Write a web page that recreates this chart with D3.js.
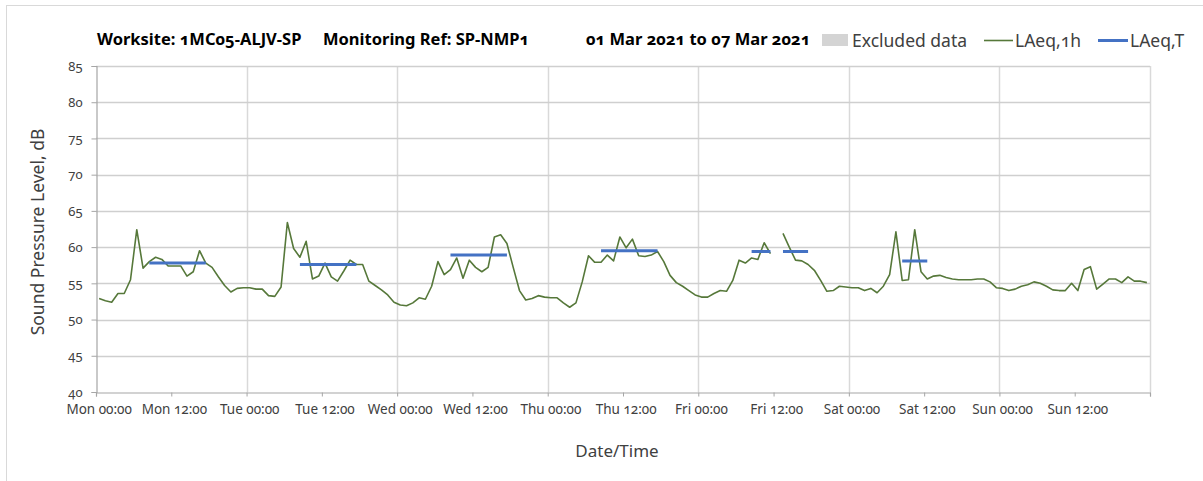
<!DOCTYPE html>
<html>
<head>
<meta charset="utf-8">
<script src="https://cdn.jsdelivr.net/npm/d3@7"></script>
<style>
  html, body { margin: 0; padding: 0; background: #ffffff; }
  svg { display: block; }
  text { font-family: "Noto Sans", "Open Sans", sans-serif; font-feature-settings: "onum" 1; }
</style>
</head>
<body>
<svg id="chart" width="1203" height="481"></svg>
<script>
// ---------------- DATA ----------------
// Hourly LAeq,1h values (dB), one array per day, 24 hourly periods 00:00..23:00
const monValues = [52.9, 52.6, 52.4, 53.6, 53.6, 55.5, 62.4, 57.1, 58.0, 58.6, 58.3, 57.4, 57.4, 57.4, 56.0, 56.6, 59.5, 57.8, 57.2, 55.9, 54.7, 53.8, 54.3, 54.4];
const tueValues = [54.4, 54.2, 54.2, 53.3, 53.2, 54.5, 63.4, 59.8, 58.6, 60.8, 55.6, 56.0, 57.8, 55.9, 55.3, 56.7, 58.2, 57.6, 57.6, 55.3, 54.7, 54.1, 53.4, 52.4];
const wedValues = [52.0, 51.9, 52.3, 53.0, 52.8, 54.6, 58.0, 56.2, 56.9, 58.5, 55.7, 58.2, 57.2, 56.6, 57.2, 61.4, 61.7, 60.5, 57.2, 54.0, 52.7, 52.9, 53.3, 53.1];
const thuValues = [53.0, 53.0, 52.3, 51.7, 52.3, 55.2, 58.8, 57.9, 57.9, 58.9, 58.1, 61.4, 59.9, 61.1, 58.8, 58.7, 58.9, 59.4, 58.0, 56.1, 55.1, 54.6, 54.0, 53.4];
const friValues = [53.1, 53.1, 53.6, 54.0, 53.9, 55.4, 58.2, 57.8, 58.5, 58.3, 60.6, 59.1, null, 61.9, 60.0, 58.2, 58.1, 57.6, 56.8, 55.4, 53.9, 54.0, 54.6, 54.5];
const satValues = [54.4, 54.4, 54.0, 54.3, 53.7, 54.6, 56.2, 62.1, 55.4, 55.5, 62.4, 56.6, 55.6, 56.0, 56.1, 55.8, 55.6, 55.5, 55.5, 55.5, 55.6, 55.6, 55.2, 54.4];
const sunValues = [54.3, 54.0, 54.2, 54.6, 54.8, 55.2, 55.0, 54.6, 54.1, 54.0, 54.0, 55.0, 54.0, 56.9, 57.3, 54.2, 54.9, 55.6, 55.6, 55.1, 55.9, 55.3, 55.3, 55.1];

// LAeq,T periods: first and last hourly period index (0..167) and level
const periodStart = [8, 32, 56, 80, 104, 128];
const periodEnd   = [17, 41, 65, 89, 113, 132];
const periodLevel = [57.8, 57.6, 58.9, 59.5, 59.4, 58.1];

// Axis labels
const dayNames = ["Mon", "Tue", "Wed", "Thu", "Fri", "Sat", "Sun"];
const hourLabels = ["00:00", "12:00"];
const yTicks = [40, 45, 50, 55, 60, 65, 70, 75, 80, 85];

const titleParts = ["Worksite: 1MC05-ALJV-SP", "Monitoring Ref: SP-NMP1", "01 Mar 2021 to 07 Mar 2021"];
const legendLabels = ["Excluded data", "LAeq,1h", "LAeq,T"];

// ---------------- BUILD ----------------
const laeq1h = [].concat(monValues, tueValues, wedValues, thuValues, friValues, satValues, sunValues);
const nHours = laeq1h.length;
const laeqT = laeq1h.map((v, i) => {
  if (v === null) return null;
  for (let k = 0; k < periodStart.length; k++) {
    if (i >= periodStart[k] && i <= periodEnd[k]) return periodLevel[k];
  }
  return null;
});
const tickLabels = [];
dayNames.forEach(d => hourLabels.forEach(h => tickLabels.push(d + " " + h)));

const svg = d3.select("#chart");
const W = 1203, H = 481;
const plot = { left: 96, right: 1150, top: 66, bottom: 392 };

const x = d3.scaleLinear().domain([0, nHours]).range([plot.left, plot.right]);
const y = d3.scaleLinear().domain([40, 85]).range([plot.bottom, plot.top]);

// outer frame
svg.append("rect").attr("x", 6.5).attr("y", 5.5).attr("width", W + 20).attr("height", H + 20)
  .attr("fill", "none").attr("stroke", "#d9d9d9").attr("stroke-width", 1);

// vertical gridlines (per day)
const dayBounds = d3.range(24, nHours + 1, 24);
svg.append("g").selectAll("line").data(dayBounds).join("line")
  .attr("x1", d => Math.round(x(d)) + 0.5).attr("x2", d => Math.round(x(d)) + 0.5)
  .attr("y1", plot.top).attr("y2", plot.bottom)
  .attr("stroke", "#d9d9d9").attr("stroke-width", 1.5);

// horizontal gridlines
svg.append("g").selectAll("line").data(yTicks.filter(t => t > 40)).join("line")
  .attr("x1", plot.left).attr("x2", plot.right)
  .attr("y1", d => Math.round(y(d)) + 0.5).attr("y2", d => Math.round(y(d)) + 0.5)
  .attr("stroke", "#cfcfcf").attr("stroke-width", 1.5);

// y axis
const yAxis = d3.axisLeft(y).tickValues(yTicks).tickSize(5).tickPadding(9).tickFormat(d3.format("d"));
const gy = svg.append("g").attr("transform", `translate(${plot.left + 0.5},0)`).call(yAxis);
gy.select(".domain").attr("stroke", "#a6a6a6").attr("stroke-width", 1.2);
gy.selectAll(".tick line").attr("stroke", "#a6a6a6");
gy.selectAll(".tick text").attr("fill", "#404040").style("font-size", "13px")
  .style("font-family", "'Noto Sans', sans-serif");

// x axis: ticks every 12 periods, labels centred on the period
const xTickVals = d3.range(0, nHours + 1, 12);
const xAxis = d3.axisBottom(x).tickValues(xTickVals).tickSize(4).tickFormat("");
const gx = svg.append("g").attr("transform", `translate(0,${plot.bottom + 0.5})`).call(xAxis);
gx.select(".domain").attr("stroke", "#a6a6a6").attr("stroke-width", 1.2);
gx.selectAll(".tick line").attr("stroke", "#a6a6a6");
svg.append("g").selectAll("text").data(tickLabels).join("text")
  .attr("x", (d, i) => x(i * 12 + 0.5))
  .attr("y", plot.bottom + 22)
  .attr("text-anchor", "middle")
  .attr("fill", "#404040").style("font-size", "13.5px")
  .text(d => d);

// LAeq,1h line
const line = d3.line().defined(d => d !== null).x((d, i) => x(i + 0.5)).y(d => y(d));
svg.append("path").datum(laeq1h)
  .attr("d", line).attr("fill", "none").attr("stroke", "#56783a").attr("stroke-width", 1.6)
  .attr("stroke-linejoin", "round");

// LAeq,T line
svg.append("path").datum(laeqT)
  .attr("d", line).attr("fill", "none").attr("stroke", "#4472c4").attr("stroke-width", 3);

// title
const titleX = [97, 323, 586];
svg.append("g").selectAll("text").data(titleParts).join("text")
  .attr("x", (d, i) => titleX[i]).attr("y", 45)
  .attr("font-weight", "bold").attr("fill", "#000").style("font-size", "16.5px")
  .text(d => d);

// legend
const lg = svg.append("g");
lg.append("rect").attr("x", 822).attr("y", 34).attr("width", 26).attr("height", 12).attr("fill", "#d4d4d4");
lg.append("line").attr("x1", 984).attr("x2", 1013).attr("y1", 40.5).attr("y2", 40.5)
  .attr("stroke", "#56783a").attr("stroke-width", 1.6);
lg.append("line").attr("x1", 1098).attr("x2", 1128).attr("y1", 40.5).attr("y2", 40.5)
  .attr("stroke", "#4472c4").attr("stroke-width", 3);
const legendX = [852, 1015, 1130];
lg.selectAll("text").data(legendLabels).join("text")
  .attr("x", (d, i) => legendX[i]).attr("y", 46.5)
  .attr("fill", "#404040").style("font-size", "17.5px")
  .text(d => d);

// axis titles
svg.append("text").attr("transform", "translate(44,232) rotate(-90)")
  .attr("text-anchor", "middle").attr("fill", "#404040").style("font-size", "17.5px")
  .text("Sound Pressure Level, dB");
svg.append("text").attr("x", 617).attr("y", 457)
  .attr("text-anchor", "middle").attr("fill", "#404040").style("font-size", "17px")
  .text("Date/Time");
</script>
</body>
</html>
